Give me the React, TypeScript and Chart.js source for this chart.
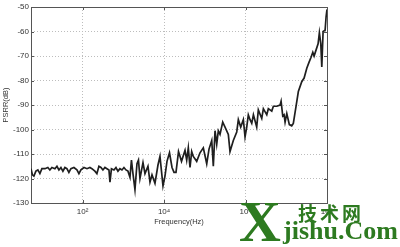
import React, { useEffect, useRef } from "react";
import { Chart, registerables } from "chart.js";

Chart.register(...registerables);

// Frequency (Hz)
const freqHz: number[] = [
  5.4, 5.85, 6.36, 7.12, 7.97, 8.93, 10.0, 11.9, 14.0, 15.7,
  17.6, 20.9, 23.4, 26.2, 29.3, 32.8, 36.7, 41.1, 46.0, 51.6,
  61.1, 72.4, 81.1, 90.8, 108, 128, 151, 169, 200, 224,
  251, 282, 315, 353, 395, 443, 469, 510, 588, 658,
  737, 825, 924, 1035, 1159, 1297, 1453, 1581, 1722, 1928,
  2160, 2350, 2559, 3034, 3396, 4020, 4508, 5047, 5973, 7080,
  7925, 8630, 9397, 10520, 11780, 13580, 15660, 17530, 19610, 22600,
  26790, 32660, 35900, 39350, 43290, 47640, 52130, 63200, 76210, 91870,
  111400, 126800, 147900, 161800, 178200, 196000, 214700, 236200, 275300, 313500,
  377800, 415500, 501100, 608000, 665600, 762000, 883000, 972000, 1.07e6, 1.17e6,
  1.29e6, 1.42e6, 1.56e6, 1.88e6, 2.06e6, 2.5e6, 2.74e6, 3.32e6, 3.63e6, 4.4e6,
  4.82e6, 5.85e6, 7.05e6, 7.46e6, 8.2e6, 8.83e6, 9.35e6, 1.03e7, 1.19e7, 1.36e7,
  1.49e7, 1.74e7, 1.98e7, 2.4e7, 2.74e7, 3.19e7, 3.63e7, 4.06e7, 4.48e7, 4.82e7,
  5.4e7, 6.04e7, 6.5e7, 7.04e7, 7.45e7, 8.02e7, 8.98e7, 9.5e7, 1e8,
];

// PSRR (dB)
const psrrDb: number[] = [
  -116, -118.5, -119, -117, -116.5, -118, -116, -116, -115.5, -116.5,
  -115.5, -116, -115, -116.5, -115.5, -117, -115.5, -116, -117.5, -116,
  -115.5, -116.5, -118, -116.5, -115.5, -116, -115.5, -116, -117, -118,
  -115, -115.5, -116.5, -115.5, -116, -116.5, -121.5, -116, -116.5, -115.5,
  -117, -116, -116.5, -115.5, -116.5, -117, -119.5, -112.5, -118, -124.5,
  -114, -112.5, -120, -113.5, -118, -115, -121.5, -118.5, -122, -114.5,
  -111, -117, -123, -119, -113, -109.5, -115.5, -117.5, -117.5, -109,
  -113, -108.5, -112.5, -107.5, -115.5, -109, -111, -113, -109.5, -107.5,
  -114, -108, -104.5, -115, -100.5, -106, -100.5, -102, -97, -99,
  -102, -109, -104.5, -101, -96, -99, -96, -103, -99, -94,
  -96, -97.5, -94, -99, -92, -95.5, -91.5, -94, -91.5, -92.5,
  -90.5, -90.5, -90, -88.5, -94.5, -94, -97, -93.5, -98, -98.5,
  -97.5, -90.5, -84.5, -80.5, -79, -75, -72.5, -70.5, -68.5, -70,
  -67.5, -65, -60.5, -65, -74.5, -60, -59.5, -54, -51,
];

const xTickValues: number[] = [1e2, 1e4, 1e6, 1e8];
const xTickLabels: string[] = ["10²", "10⁴", "10⁶", "10⁸"];
const yMin = -130;
const yMax = -50;
const yStep = 10;
const xTitle = "Frequency(Hz)";
const yTitle = "PSRR(dB)";

const framePlugin = {
  id: "frame",
  beforeDatasetsDraw(chart: any) {
    const { ctx, chartArea } = chart;
    const { left, right, top, bottom } = chartArea;
    ctx.save();
    ctx.setLineDash([]);
    ctx.strokeStyle = "#555";
    ctx.lineWidth = 1;
    ctx.strokeRect(left + 0.5, top + 0.5, right - left, bottom - top);
    const ys = chart.scales.y;
    ys.ticks.forEach((t: any) => {
      const py = Math.round(ys.getPixelForValue(t.value)) + 0.5;
      ctx.beginPath();
      ctx.moveTo(left, py);
      ctx.lineTo(left + 3, py);
      ctx.moveTo(right, py);
      ctx.lineTo(right - 3, py);
      ctx.stroke();
    });
    const xs = chart.scales.x;
    xs.ticks.forEach((t: any) => {
      const px = Math.round(xs.getPixelForValue(t.value)) + 0.5;
      ctx.beginPath();
      ctx.moveTo(px, bottom);
      ctx.lineTo(px, bottom - 3);
      ctx.moveTo(px, top);
      ctx.lineTo(px, top + 3);
      ctx.stroke();
    });
    ctx.restore();
  },
};

export default function App() {
  const canvasRef = useRef<HTMLCanvasElement | null>(null);

  useEffect(() => {
    const canvas = canvasRef.current;
    if (!canvas) return;
    const points = freqHz.map((f, i) => ({ x: f, y: psrrDb[i] }));
    const chart = new Chart(canvas, {
      type: "line",
      data: {
        datasets: [
          {
            data: points,
            borderColor: "#1f1f1f",
            borderWidth: 1.7,
            pointRadius: 0,
            tension: 0,
            fill: false,
          },
        ],
      },
      options: {
        animation: false,
        responsive: false,
        devicePixelRatio: 1,
        layout: { padding: { top: 7, right: 73, left: 0, bottom: 0 } },
        plugins: { legend: { display: false }, tooltip: { enabled: false } },
        scales: {
          x: {
            type: "logarithmic",
            min: 5.4,
            max: 1e8,
            afterBuildTicks: (scale: any) => {
              scale.ticks = xTickValues.map((v) => ({ value: v }));
            },
            afterFit: (scale: any) => {
              scale.height = 44;
            },
            ticks: {
              autoSkip: false,
              maxRotation: 0,
              padding: 4,
              color: "#333",
              font: { family: "Liberation Sans, Arial, sans-serif", size: 8 },
              callback: (value: any) => {
                const idx = xTickValues.indexOf(Number(value));
                return idx >= 0 ? xTickLabels[idx] : "";
              },
            },
            grid: { color: "#bdbdbd", lineWidth: 1, drawTicks: false },
            border: { display: false, dash: [1, 2] },
            title: {
              display: true,
              text: xTitle,
              color: "#333",
              font: { family: "Liberation Sans, Arial, sans-serif", size: 7.5 },
              padding: { top: 0, bottom: 21 },
            },
          },
          y: {
            type: "linear",
            min: yMin,
            max: yMax,
            afterFit: (scale: any) => {
              scale.width = 31;
            },
            ticks: {
              stepSize: yStep,
              padding: 2,
              color: "#333",
              font: { family: "Liberation Sans, Arial, sans-serif", size: 8 },
            },
            grid: { color: "#bdbdbd", lineWidth: 1, drawTicks: false },
            border: { display: false, dash: [1, 2] },
            title: {
              display: true,
              text: yTitle,
              color: "#333",
              font: { family: "Liberation Sans, Arial, sans-serif", size: 7.5 },
              padding: { top: 1.5, bottom: 0 },
            },
          },
        },
      },
      plugins: [framePlugin],
    });
    return () => chart.destroy();
  }, []);

  const green = "#2d7a20";
  return (
    <div
      style={{
        position: "fixed",
        left: 0,
        top: 0,
        width: 400,
        height: 247,
        background: "#fff",
        overflow: "hidden",
      }}
    >
      <canvas ref={canvasRef} width={400} height={247} style={{ display: "block" }} />
      <span
        style={{
          position: "absolute",
          left: 239,
          top: 193,
          fontFamily: "Liberation Serif, DejaVu Serif, serif",
          fontWeight: "bold",
          fontSize: 58,
          lineHeight: 1,
          color: green,
        }}
      >
        X
      </span>
      <span
        style={{
          position: "absolute",
          left: 298,
          top: 203,
          fontFamily: "Noto Sans CJK SC, sans-serif",
          fontWeight: "bold",
          fontSize: 19,
          letterSpacing: 3,
          lineHeight: 1,
          color: green,
        }}
      >
        技术网
      </span>
      <span
        style={{
          position: "absolute",
          left: 283,
          top: 218,
          fontFamily: "Liberation Serif, DejaVu Serif, serif",
          fontWeight: "bold",
          fontSize: 26,
          lineHeight: 1,
          color: green,
        }}
      >
        jishu.Com
      </span>
    </div>
  );
}
